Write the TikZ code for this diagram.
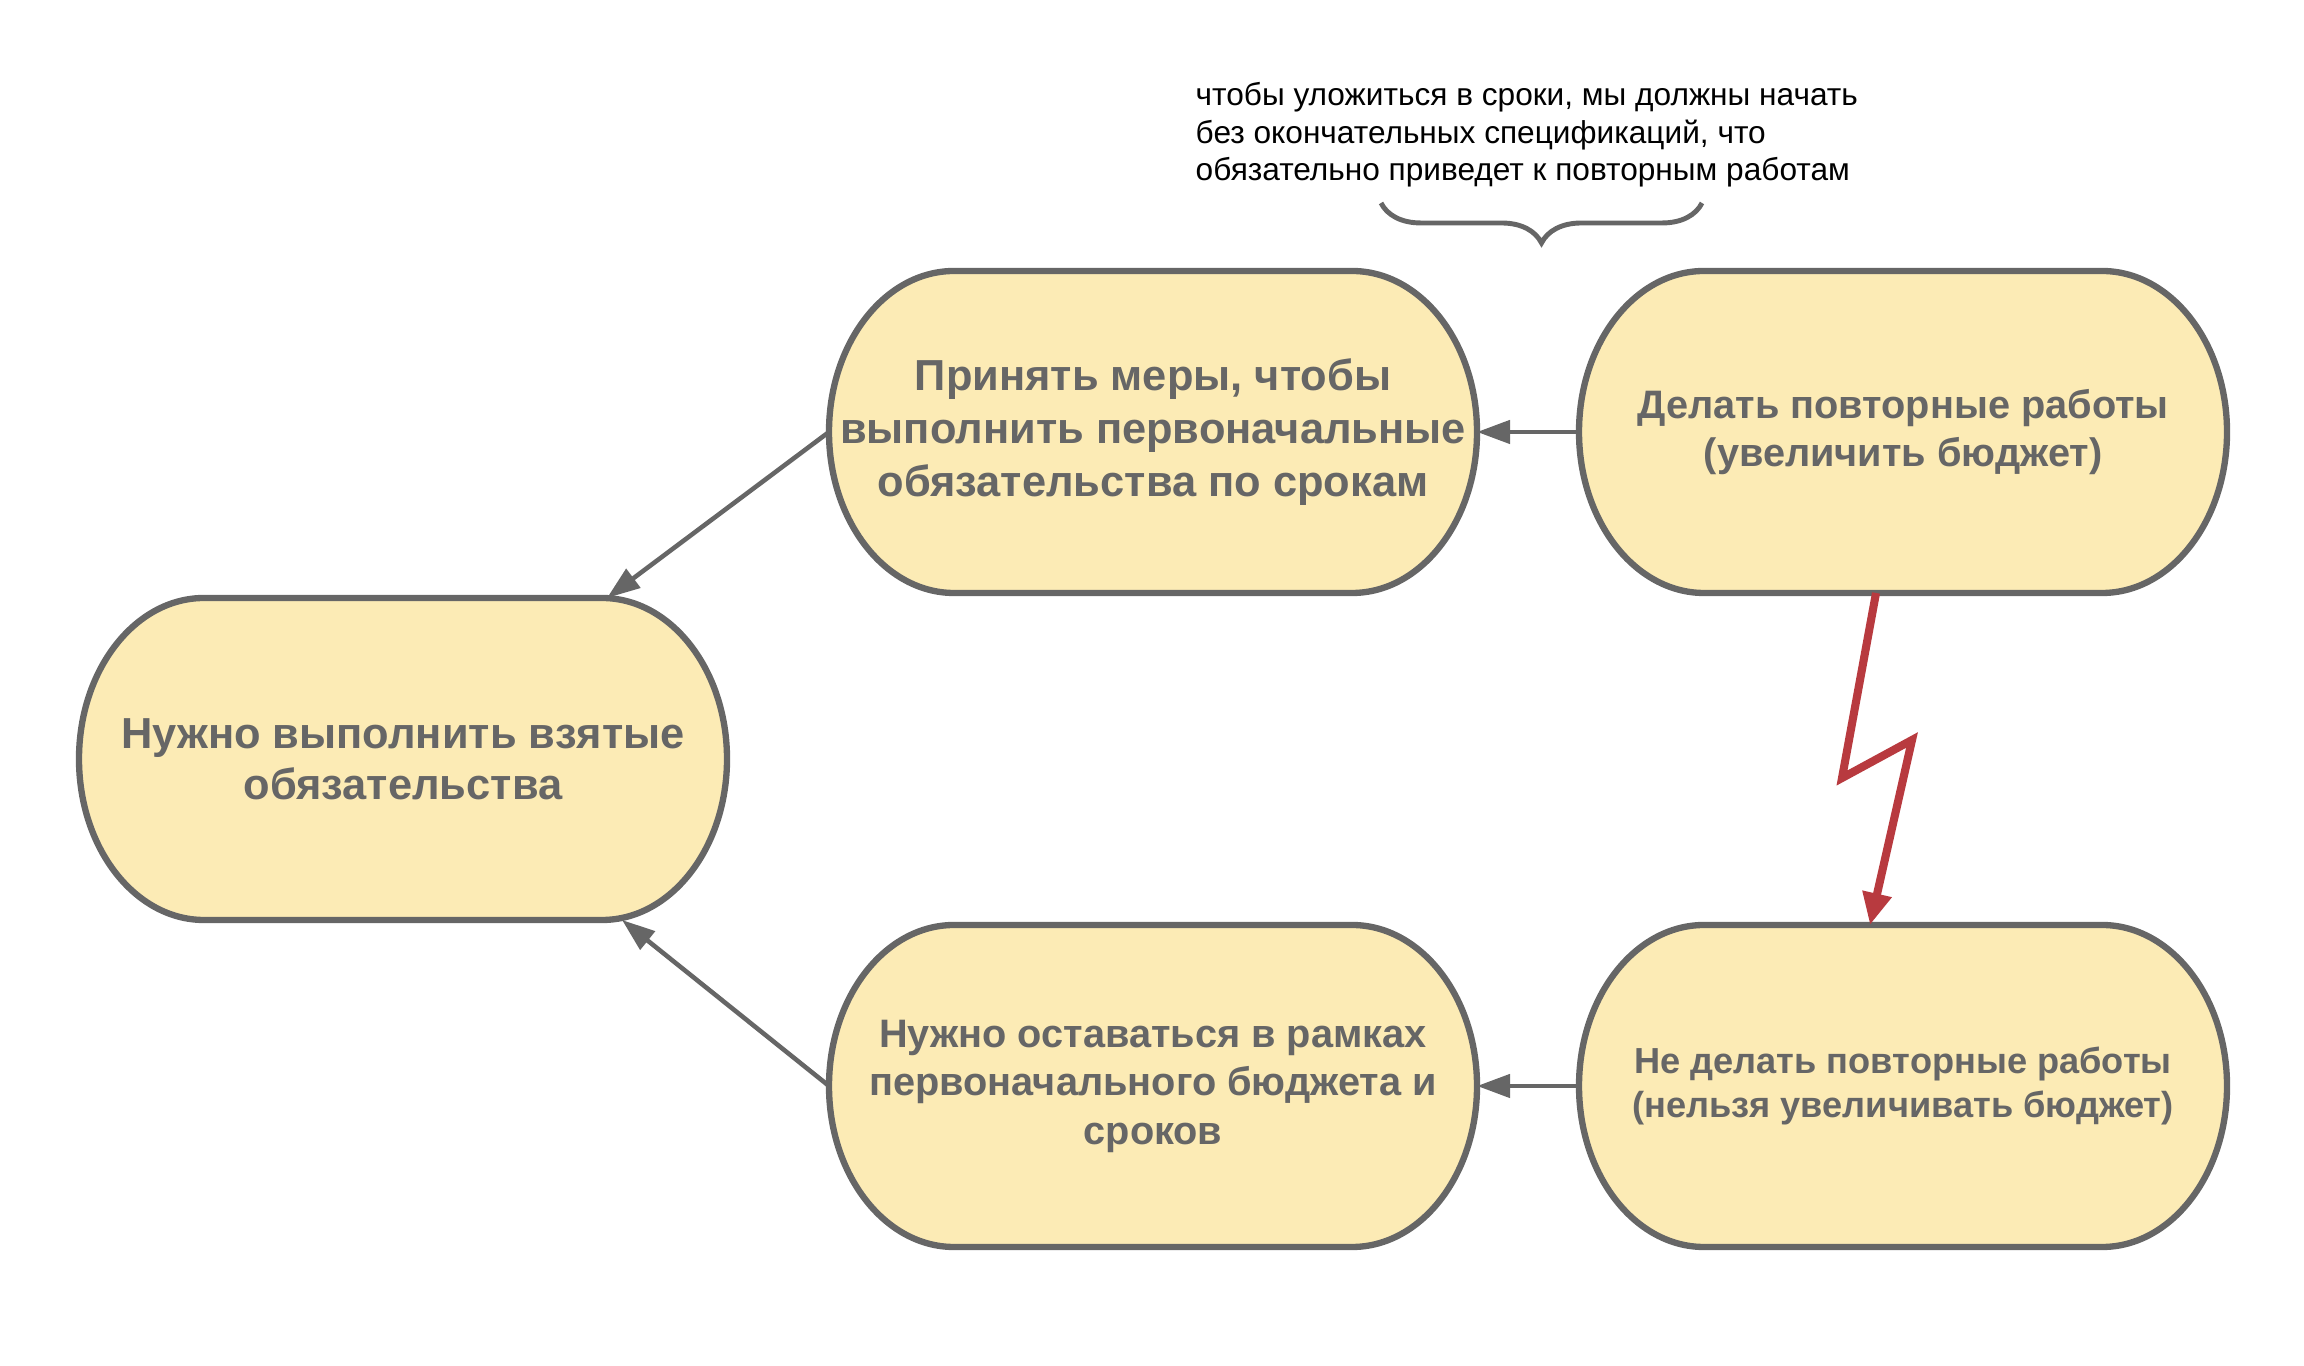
\documentclass[tikz,border=0pt]{standalone}
\usepackage{fontspec}
\setmainfont{Liberation Sans}
\usepackage{xcolor}
\usepackage{tikz}
\usetikzlibrary{arrows.meta, calc, backgrounds}
\usetikzlibrary{decorations.pathreplacing}
\definecolor{boxfill}{HTML}{FCEBB5}
\definecolor{boxline}{HTML}{666666}
\definecolor{zapred}{HTML}{B83A3F}

\begin{document}
\begin{tikzpicture}[
		block/.style={rectangle, minimum width=6.48cm, minimum height=3.22cm, inner sep=0pt, outer sep=0pt, align=center, text=boxline},
		capsule/.style={draw=boxline, fill=boxfill, line width=1.8pt, line join=round},
		link/.style={-{Triangle[length=0.33cm, width=0.23cm]}, draw=boxline, line width=1.3pt},
		zap/.style={-{Triangle[length=0.32cm, width=0.28cm]}, draw=zapred, line width=2.3pt, line join=miter},
		note/.style={align=left, inner sep=0pt, font=\fontsize{9}{10.7}\selectfont},
		]
	\useasboundingbox (0, 0) rectangle (23.04, 13.66);

	\node[block, font=\fontsize{12.35}{14.6}\selectfont\bfseries] (goal) at (4.03, 6.07) {Нужно выполнить взятые\\обязательства};
	\node[block, font=\fontsize{12.35}{15}\selectfont\bfseries] (accel) at (11.53, 9.34) {Принять меры, чтобы\\выполнить первоначальные\\обязательства по срокам};
	\node[block, font=\fontsize{11.3}{13.8}\selectfont\bfseries] (rework) at (19.03, 9.34) {Делать повторные работы\\(увеличить бюджет)};
	\node[block, font=\fontsize{11.3}{13.8}\selectfont\bfseries] (budget) at (11.53, 2.80) {Нужно оставаться в рамках\\первоначального бюджета и\\сроков};
	\node[block, font=\fontsize{10.3}{12.4}\selectfont\bfseries] (norework) at (19.03, 2.80) {Не делать повторные работы\\(нельзя увеличивать бюджет)};

	% capsule outlines behind the text
	\begin{pgfonlayer}{background}
		\foreach \n in {goal, accel, rework, budget, norework}
			\draw[capsule] ([xshift=1.25cm]\n.north west) -- ([xshift=-1.25cm]\n.north east)
				arc[start angle=90, end angle=-90, x radius=1.25cm, y radius=1.61cm]
				-- ([xshift=1.25cm]\n.south west)
				arc[start angle=270, end angle=90, x radius=1.25cm, y radius=1.61cm] -- cycle;
	\end{pgfonlayer}

	\node[note, anchor=west] (remark) at (11.95, 12.31) {чтобы уложиться в сроки, мы должны начать\\без окончательных спецификаций, что\\обязательно приведет к повторным работам};
	\coordinate (braceL) at (13.81, 11.63);
	\coordinate (braceR) at (17.02, 11.63);
	\draw[boxline, line width=1.4pt, decorate, decoration={brace, mirror, amplitude=0.4cm}] (braceL) -- (braceR);

	\draw[link] (rework) -- (accel);
	\draw[link] (norework) -- (budget);
	\draw[link] (accel.west) -- ([xshift=-1.2cm]goal.north east);
	\draw[link] (budget.west) -- ([xshift=-1.05cm]goal.south east);

	% conflict
	\coordinate (zagL) at (18.42, 5.88);
	\coordinate (zagR) at (19.12, 6.26);
	\draw[zap] ([xshift=-0.27cm]rework.south) -- (zagL) -- (zagR) -- ([xshift=-0.33cm]norework.north);

\end{tikzpicture}
\end{document}
